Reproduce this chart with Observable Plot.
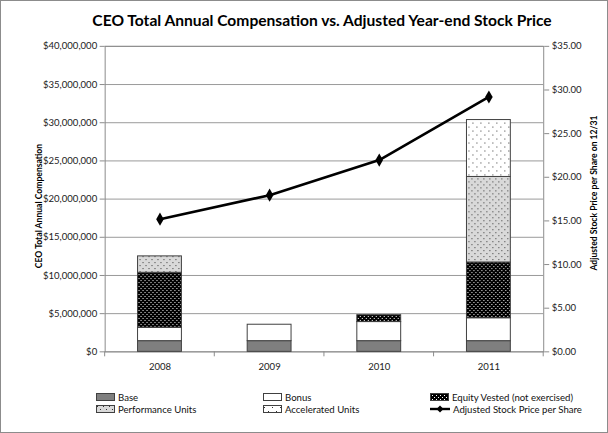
<!DOCTYPE html>
<html><head><meta charset="utf-8">
<script src="https://cdn.jsdelivr.net/npm/d3@7"></script>
<script src="https://cdn.jsdelivr.net/npm/@observablehq/plot@0.6"></script>
<style>
html,body{margin:0;padding:0;background:#fff;}
#chart{position:relative;width:608px;height:433px;box-sizing:border-box;border:1px solid #8c8c8c;background:#fff;font-family:Lato,"Open Sans",sans-serif;overflow:hidden;}
#title{position:absolute;top:10px;left:0;width:642px;text-align:center;font-weight:bold;font-size:15.6px;color:#000;}
.ytitle{position:absolute;font-weight:bold;font-size:8.6px;color:#000;white-space:nowrap;transform:translate(-50%,-50%) rotate(-90deg);}
#plotwrap{position:absolute;left:0;top:0;}
.leg{position:absolute;font-size:9.6px;color:#111;display:flex;align-items:center;white-space:nowrap;}
.leg svg{margin-right:3px;}
</style></head>
<body>
<svg width="0" height="0" style="position:absolute">
<defs>
<pattern id="pEquity" width="4" height="4" patternUnits="userSpaceOnUse">
<rect width="4" height="4" fill="#000"/><rect x="0" y="0" width="1" height="1" fill="#fff"/><rect x="2" y="2" width="1" height="1" fill="#fff"/>
</pattern>
<pattern id="pPerf" width="6" height="6" patternUnits="userSpaceOnUse">
<rect width="6" height="6" fill="#d9d9d9"/><rect x="1" y="1" width="1" height="1" fill="#333"/><rect x="4" y="4" width="1" height="1" fill="#333"/>
</pattern>
<pattern id="pAccel" width="8" height="8" patternUnits="userSpaceOnUse">
<rect width="8" height="8" fill="#fff"/><rect x="1" y="2" width="1" height="1" fill="#333"/><rect x="5" y="6" width="1" height="1" fill="#333"/>
</pattern>
</defs>
</svg>
<div id="chart">
<div id="title">CEO Total Annual Compensation vs. Adjusted Year-end Stock Price</div>
<div id="plotwrap"></div>
<div class="ytitle" style="left:38px;top:205px;">CEO Total Annual Compensation</div>
<div class="ytitle" style="left:593px;top:192px;">Adjusted Stock Price per Share on 12/31</div>
<div id="legend"></div>
</div>
<script>
const years = ["2008","2009","2010","2011"];
const seriesNames = ["Base","Bonus","Equity Vested  (not exercised)","Performance Units","Accelerated Units"];
const base        = [1.4e6, 1.4e6, 1.4e6, 1.4e6];
const bonus       = [1.75e6, 2.15e6, 2.5e6, 3.0e6];
const equity      = [7.2e6, 0, 0.9e6, 7.3e6];
const performance = [2.15e6, 0, 0, 11.2e6];
const accelerated = [0, 0, 0, 7.45e6];
const stockPrice  = [15.2, 17.95, 21.97, 29.2];
const compTicks   = [0,5e6,10e6,15e6,20e6,25e6,30e6,35e6,40e6];
const priceTicks  = [0,5,10,15,20,25,30,35];
const lineName = "Adjusted Stock Price per Share";

const fills = ["#7f7f7f","#ffffff","url(#pEquity)","url(#pPerf)","url(#pAccel)"];
const seriesValues = [base, bonus, equity, performance, accelerated];
const compMax = 40e6, priceMax = 35, k = compMax/priceMax;

const rows = [];
years.forEach((y,i)=>seriesNames.forEach((s,j)=>{ if(seriesValues[j][i]>0) rows.push({year:y, series:s, value:seriesValues[j][i]}); }));
const pts = years.map((y,i)=>({year:y, price:stockPrice[i]}));

const fmtComp = d=>"$"+d3.format(",")(d);
const fmtPrice = d=>"$"+(d/k).toFixed(2);

const plot = Plot.plot({
  width:608, height:380,
  marginTop:45, marginBottom:28.5, marginLeft:104, marginRight:64,
  style:{fontFamily:"Lato, 'Open Sans', sans-serif", fontSize:"9.6px", color:"#222", background:"transparent"},
  x:{domain:years, paddingInner:0.6, paddingOuter:0.3, axis:null},
  y:{domain:[0,compMax], axis:null},
  color:{domain:seriesNames, range:fills},
  marks:[
    Plot.gridY(compTicks,{stroke:"#9a9a9a", strokeOpacity:1}),
    Plot.frame({stroke:"#8c8c8c"}),
    Plot.axisY(compTicks,{anchor:"left", tickFormat:fmtComp, tickSize:5, tickPadding:3, stroke:"#8c8c8c", label:null, fill:"#222"}),
    Plot.axisY(priceTicks.map(p=>p*k),{anchor:"right", tickFormat:fmtPrice, tickSize:5, tickPadding:3, stroke:"#8c8c8c", label:null, fill:"#222"}),
    Plot.axisX(years,{anchor:"bottom", tickSize:0, tickPadding:11, label:null, fill:"#222"}),
    Plot.barY(rows,{x:"year", y:"value", fill:"series", stroke:"#404040", strokeWidth:1, order:seriesNames}),
    Plot.line(pts,{x:"year", y:d=>d.price*k, stroke:"#000", strokeWidth:2.6}),
    Plot.dot(pts,{x:"year", y:d=>d.price*k, symbol:"diamond", r:4, fill:"#000", stroke:"none"})
  ]
});
document.getElementById("plotwrap").appendChild(plot);

// category boundary tick marks on x axis (Excel style)
const xs = plot.scale("x"), ys = plot.scale("y");
const step = xs.step, bw = xs.bandwidth;
const y0 = ys.apply(0);
const svg = d3.select(plot);
const bounds = years.map(y=>xs.apply(y) - (step-bw)/2).concat([xs.apply(years[years.length-1]) + bw + (step-bw)/2]);
svg.append("g").selectAll("line").data(bounds).join("line")
  .attr("x1",d=>d).attr("x2",d=>d).attr("y1",y0).attr("y2",y0+5)
  .attr("stroke","#8c8c8c");

// legend
const legend = document.getElementById("legend");
const legItems = [
  {name:seriesNames[0], fill:fills[0], x:95, y:396},
  {name:seriesNames[1], fill:fills[1], x:262, y:396},
  {name:seriesNames[2], fill:fills[2], x:429, y:396},
  {name:seriesNames[3], fill:fills[3], x:95, y:408},
  {name:seriesNames[4], fill:fills[4], x:262, y:408},
  {name:lineName, line:true, x:429, y:408}
];
legItems.forEach(it=>{
  const d = document.createElement("div");
  d.className="leg";
  d.style.left = it.x+"px"; d.style.top = (it.y-7)+"px"; d.style.height="14px";
  const sw = it.line
    ? `<svg width="20" height="10"><line x1="0" y1="5" x2="20" y2="5" stroke="#000" stroke-width="2.4"/><path d="M10,1.5L13.5,5L10,8.5L6.5,5Z" fill="#000"/></svg>`
    : `<svg width="19" height="8"><rect x="0.5" y="0.5" width="18" height="7" fill="${it.fill}" stroke="#404040" stroke-width="1"/></svg>`;
  d.innerHTML = sw + `<span>${it.name}</span>`;
  legend.appendChild(d);
});
</script>
</body></html>
